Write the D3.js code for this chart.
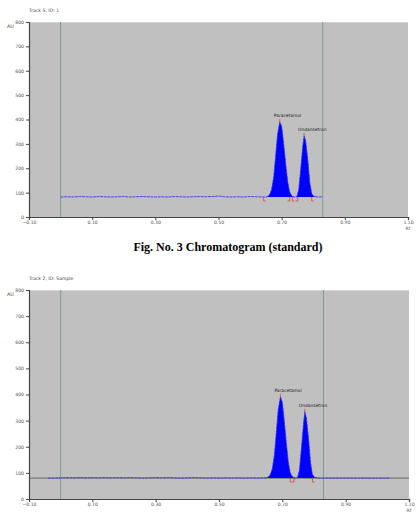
<!DOCTYPE html>
<html>
<head>
<meta charset="utf-8">
<script src="https://cdn.jsdelivr.net/npm/d3@7"></script>
<style>
  body { margin: 0; background: #fff; }
  svg { display: block; }
  .tick text { font-family: "DejaVu Sans", sans-serif; font-size: 4.6px; fill: #555; }
  .tick line, .domain { stroke: #444; }
</style>
</head>
<body>
<svg id="chart" width="418" height="524"></svg>
<script>
const rfTicks = [-0.10, 0.10, 0.30, 0.50, 0.70, 0.90, 1.10];
const auTicks = [0, 100, 200, 300, 400, 500, 600, 700, 800];
const trackTitles = ["Track 5, ID: 1", "Track 2, ID: Sample"];
const peakNames = ["Paracetamol", "Ondansetron"];
const frontLines = [0.0, 0.83];
const baselineAU = [82, 80];

// standard track
const stdRf = [0.00, 0.02, 0.04, 0.06, 0.08, 0.10, 0.12, 0.14, 0.16, 0.18, 0.20, 0.22, 0.24, 0.26, 0.28, 0.30,
  0.32, 0.34, 0.36, 0.38, 0.40, 0.42, 0.44, 0.46, 0.48, 0.50, 0.52, 0.54, 0.56, 0.58, 0.60, 0.62, 0.64,
  0.650, 0.656, 0.662, 0.668, 0.675, 0.681, 0.687, 0.694, 0.700, 0.706, 0.713, 0.719, 0.725, 0.732, 0.740,
  0.748, 0.754, 0.760, 0.767, 0.771, 0.776, 0.783, 0.789, 0.795, 0.802, 0.810, 0.820, 0.830];
const stdAU = [82, 83, 82, 84, 83, 82, 84, 83, 82, 83, 84, 82, 83, 84, 83, 82,
  83, 82, 84, 83, 82, 83, 84, 83, 84, 86, 83, 82, 83, 82, 84, 83, 82,
  82, 84, 92, 112, 165, 252, 340, 390, 372, 305, 215, 145, 104, 86, 82,
  83, 112, 192, 292, 333, 312, 232, 142, 96, 84, 83, 82, 83];

// sample track
const smpRf = [-0.04, -0.02, 0.00, 0.02, 0.04, 0.06, 0.08, 0.10, 0.12, 0.14, 0.16, 0.18, 0.20, 0.22, 0.24, 0.26,
  0.28, 0.30, 0.32, 0.34, 0.36, 0.38, 0.40, 0.42, 0.44, 0.46, 0.48, 0.50, 0.52, 0.54, 0.56, 0.58, 0.60, 0.62, 0.64,
  0.650, 0.656, 0.662, 0.668, 0.675, 0.681, 0.687, 0.694, 0.700, 0.706, 0.713, 0.719, 0.725, 0.732, 0.740,
  0.748, 0.754, 0.760, 0.767, 0.771, 0.776, 0.783, 0.789, 0.795, 0.802, 0.810, 0.820, 0.840, 0.860, 0.880,
  0.900, 0.920, 0.940, 0.960, 0.980, 1.000, 1.020, 1.040];
const smpAU = [80, 80, 81, 82, 81, 82, 81, 82, 81, 82, 81, 82, 81, 82, 81, 80,
  81, 82, 81, 82, 81, 80, 81, 82, 81, 80, 81, 80, 81, 80, 81, 80, 81, 80, 81,
  81, 84, 93, 114, 168, 255, 342, 391, 370, 300, 210, 140, 100, 85, 80,
  82, 110, 190, 290, 334, 310, 228, 140, 94, 83, 81, 80, 80, 80, 80,
  80, 80, 80, 80, 80, 80, 80, 80];

const peakRf = [0.694, 0.771];
const peakAU = [[390, 333], [391, 334]];
const redMarks = [[0.643, 0.725, 0.734, 0.751, 0.795], [0.725, 0.737, 0.795]];

const panels = [
  { left: 29, right: 408, top: 22, bottom: 217, rf: stdRf, au: stdAU },
  { left: 29, right: 409, top: 290, bottom: 499, rf: smpRf, au: smpAU },
];

const svg = d3.select("#chart");

function drawPanel(p, i) {
  const x = d3.scaleLinear().domain([-0.10, 1.10]).range([p.left, p.right]);
  const y = d3.scaleLinear().domain([0, 800]).range([p.bottom, p.top]);
  const g = svg.append("g");
  const data = p.rf.map((r, k) => ({ rf: r, au: p.au[k] }));
  const base = baselineAU[i];

  g.append("rect")
    .attr("x", p.left).attr("y", p.top)
    .attr("width", p.right - p.left).attr("height", p.bottom - p.top)
    .attr("fill", "#c0c0c0");

  g.append("line")
    .attr("x1", p.left).attr("x2", p.right)
    .attr("y1", p.top + 0.5).attr("y2", p.top + 0.5)
    .attr("stroke", "#d6d6d6");

  // sample track has the dark baseline over whole width
  if (i === 1) {
    g.append("line")
      .attr("x1", p.left).attr("x2", p.right)
      .attr("y1", y(base)).attr("y2", y(base))
      .attr("stroke", "#555").attr("stroke-width", 0.8);
  }

  frontLines.forEach((f) => {
    g.append("line")
      .attr("x1", x(f)).attr("x2", x(f))
      .attr("y1", p.top).attr("y2", p.bottom)
      .attr("stroke", "#7a9e92").attr("stroke-width", 1);
  });

  const peakData = data.filter((d) => d.rf >= 0.649 && d.rf <= 0.811);
  const area = d3.area()
    .x((d) => x(d.rf))
    .y0(y(base))
    .y1((d) => y(d.au));
  g.append("path").attr("d", area(peakData)).attr("fill", "#0000ff");

  const line = d3.line().x((d) => x(d.rf)).y((d) => y(d.au));
  g.append("path")
    .attr("d", line(data))
    .attr("fill", "none")
    .attr("stroke", "#2a2ae8")
    .attr("stroke-width", 0.8)
    .attr("stroke-dasharray", "3,0.6");

  // integration marks
  redMarks[i].forEach((m, k) => {
    const mx = x(m), my = y(base);
    const dir = k % 2 === 0 ? 1 : -1;
    g.append("path")
      .attr("d", `M${mx},${my} V${my + 4} h${dir * 2}`)
      .attr("fill", "none").attr("stroke", "#e03030").attr("stroke-width", 0.7);
  });

  peakRf.forEach((r, k) => {
    const ax = x(r), ay = y(peakAU[i][k]);
    g.append("line")
      .attr("x1", ax).attr("x2", ax)
      .attr("y1", ay - 3).attr("y2", ay)
      .attr("stroke", "#e03030").attr("stroke-width", 0.7);
    g.append("text")
      .attr("x", ax - 6).attr("y", ay - 4.5)
      .attr("font-family", "DejaVu Sans, sans-serif")
      .attr("font-size", 4.4).attr("fill", "#222")
      .text(peakNames[k]);
  });

  const yAxis = g.append("g")
    .attr("transform", `translate(${p.left},0)`)
    .call(d3.axisLeft(y).tickValues(auTicks).tickSize(3).tickPadding(2).tickFormat(d3.format("d")));
  yAxis.select(".domain").attr("stroke-width", 1.2);

  const xAxis = g.append("g")
    .attr("transform", `translate(0,${p.bottom})`)
    .call(d3.axisBottom(x).tickValues(rfTicks).tickSize(3).tickPadding(1).tickFormat(d3.format(".2f")));
  xAxis.select(".domain").attr("stroke-width", 1.2);

  g.append("text")
    .attr("x", p.right).attr("y", p.bottom + 13)
    .attr("text-anchor", "middle")
    .attr("font-family", "DejaVu Sans, sans-serif")
    .attr("font-size", 4.6).attr("fill", "#555")
    .text("Rf");

  g.append("text")
    .attr("x", 7).attr("y", p.top + 6)
    .attr("font-family", "DejaVu Sans, sans-serif")
    .attr("font-size", 4.8).attr("fill", "#444")
    .text("AU");

  g.append("text")
    .attr("x", p.left).attr("y", p.top - 10)
    .attr("font-family", "DejaVu Sans, sans-serif")
    .attr("font-size", 4.6).attr("fill", "#444")
    .text(trackTitles[i]);
}

panels.forEach(drawPanel);

svg.append("text")
  .attr("x", 228).attr("y", 251)
  .attr("text-anchor", "middle")
  .attr("font-family", "Liberation Serif, Times New Roman, serif")
  .attr("font-weight", "bold")
  .attr("font-size", 12)
  .attr("fill", "#000")
  .text("Fig. No. 3 Chromatogram (standard)");
</script>
</body>
</html>
